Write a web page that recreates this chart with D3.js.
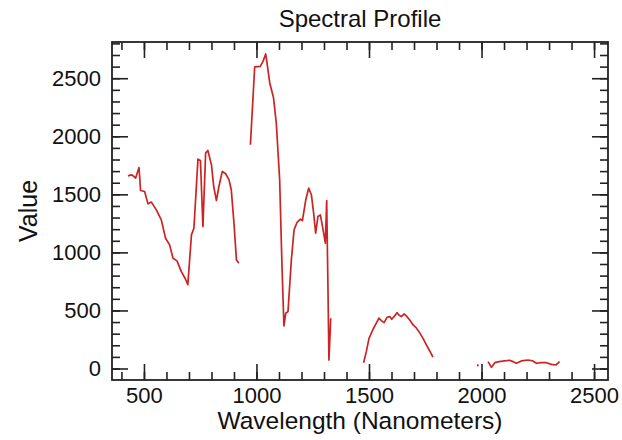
<!DOCTYPE html>
<html>
<head>
<meta charset="utf-8">
<script src="https://cdn.jsdelivr.net/npm/d3@7"></script>
<style>
  body { margin: 0; background: #fff; }
  text { font-family: "Liberation Sans", Arial, Helvetica, sans-serif; fill: #111; }
</style>
</head>
<body>
<svg id="chart"></svg>
<script>
let w = 622;
let h = 440;

// spectral bands (gaps between them are water absorption bands)
const band1Wl  = [429, 444, 456, 463, 478, 485, 503, 518, 533, 555, 577, 596, 614, 629, 647, 666, 685, 695, 711, 722, 740, 751, 762, 774, 784, 800, 810, 822, 833, 848, 863, 878, 888, 900, 911, 922];
const band1Val = [1659, 1668, 1653, 1640, 1731, 1533, 1524, 1418, 1433, 1366, 1280, 1122, 1065, 950, 927, 834, 769, 722, 1151, 1208, 1803, 1791, 1222, 1855, 1878, 1754, 1567, 1447, 1567, 1697, 1677, 1625, 1539, 1252, 935, 907];

const band2Wl  = [973, 992, 1017, 1029, 1041, 1047, 1059, 1076, 1088, 1103, 1113, 1122, 1130, 1140, 1155, 1167, 1180, 1195, 1204, 1219, 1232, 1244, 1254, 1263, 1273, 1284, 1296, 1306, 1312, 1318, 1322, 1330];
const band2Val = [1927, 2597, 2602, 2645, 2709, 2631, 2459, 2329, 2114, 1625, 907, 366, 476, 490, 935, 1194, 1257, 1286, 1274, 1453, 1553, 1496, 1338, 1166, 1309, 1323, 1194, 1079, 1447, 640, 73, 433];

const band3Wl  = [1476, 1488, 1500, 1518, 1536, 1544, 1555, 1567, 1580, 1592, 1601, 1614, 1624, 1633, 1644, 1656, 1666, 1681, 1696, 1711, 1725, 1740, 1755, 1770, 1784];
const band3Val = [50, 145, 260, 338, 403, 433, 412, 395, 441, 447, 424, 453, 481, 461, 447, 470, 453, 418, 375, 347, 309, 260, 203, 151, 97];

const band4Wl  = [1983, 1984];
const band4Val = [18, 36];

const band5Wl  = [2029, 2044, 2059, 2078, 2103, 2125, 2140, 2155, 2177, 2207, 2226, 2244, 2266, 2288, 2311, 2330, 2347];
const band5Val = [59, 10, 50, 59, 65, 71, 59, 45, 65, 73, 67, 45, 50, 50, 36, 30, 59];

const xTicks = [500, 1000, 1500, 2000, 2500];
const yTicks = [0, 500, 1000, 1500, 2000, 2500];
const xMinor = d3.range(400, 2600, 100);
const yMinor = d3.range(0, 2900, 100);

const xDomain = [358, 2562];
const yDomain = [-99, 2812];

const margin = {top: 42, right: 14, bottom: 60, left: 112};

const chart1 = d3.select('#chart')
    .attr('width', w)
    .attr('height', h);

const xScale = d3.scaleLinear()
    .domain(xDomain)
    .range([margin.left, w - margin.right]);

const yScale = d3.scaleLinear()
    .domain(yDomain)
    .range([h - margin.bottom, margin.top]);

const bands = [
    [band1Wl, band1Val],
    [band2Wl, band2Val],
    [band3Wl, band3Val],
    [band4Wl, band4Val],
    [band5Wl, band5Val]
].map(([wl, val]) => wl.map((d, i) => ({wl: d, value: val[i]})));

const line = d3.line()
    .x(d => xScale(d.wl))
    .y(d => yScale(d.value));

chart1.append('g')
    .selectAll('path')
    .data(bands)
    .join('path')
    .attr('d', line)
    .attr('fill', 'none')
    .attr('stroke', '#cc2424')
    .attr('stroke-width', 1.7)
    .attr('stroke-linejoin', 'round');

// axes: majors with labels, minors without, all ticks pointing inward
const x0 = h - margin.bottom;
const y0 = margin.top;
const xr = w - margin.right;
const fmt = d3.format('d');

const styleAxis = g => {
    g.select('.domain').remove();
    g.selectAll('line').attr('stroke', '#222').attr('stroke-width', 1.6);
    g.selectAll('text').attr('font-size', 22).attr('fill', '#111')
        .attr('font-family', '"Liberation Sans", Arial, sans-serif');
};

chart1.append('g')
    .attr('transform', `translate(0,${x0})`)
    .call(d3.axisBottom(xScale).tickValues(xMinor).tickSizeInner(-8).tickSizeOuter(0).tickFormat(''))
    .call(styleAxis);
chart1.append('g')
    .attr('transform', `translate(0,${x0})`)
    .call(d3.axisBottom(xScale).tickValues(xTicks).tickSizeInner(-16).tickSizeOuter(0).tickPadding(7).tickFormat(fmt))
    .call(styleAxis);

chart1.append('g')
    .attr('transform', `translate(0,${y0})`)
    .call(d3.axisTop(xScale).tickValues(xMinor).tickSizeInner(-8).tickSizeOuter(0).tickFormat(''))
    .call(styleAxis);
chart1.append('g')
    .attr('transform', `translate(0,${y0})`)
    .call(d3.axisTop(xScale).tickValues(xTicks).tickSizeInner(-16).tickSizeOuter(0).tickFormat(''))
    .call(styleAxis);

chart1.append('g')
    .attr('transform', `translate(${margin.left},0)`)
    .call(d3.axisLeft(yScale).tickValues(yMinor).tickSizeInner(-8).tickSizeOuter(0).tickFormat(''))
    .call(styleAxis);
chart1.append('g')
    .attr('transform', `translate(${margin.left},0)`)
    .call(d3.axisLeft(yScale).tickValues(yTicks).tickSizeInner(-16).tickSizeOuter(0).tickPadding(11).tickFormat(fmt))
    .call(styleAxis);

chart1.append('g')
    .attr('transform', `translate(${xr},0)`)
    .call(d3.axisRight(yScale).tickValues(yMinor).tickSizeInner(-8).tickSizeOuter(0).tickFormat(''))
    .call(styleAxis);
chart1.append('g')
    .attr('transform', `translate(${xr},0)`)
    .call(d3.axisRight(yScale).tickValues(yTicks).tickSizeInner(-16).tickSizeOuter(0).tickFormat(''))
    .call(styleAxis);

// plot frame
chart1.append('rect')
    .attr('x', margin.left)
    .attr('y', margin.top)
    .attr('width', xr - margin.left)
    .attr('height', x0 - margin.top)
    .attr('fill', 'none')
    .attr('stroke', '#222')
    .attr('stroke-width', 1.8);

// titles
chart1.append('text')
    .attr('x', (margin.left + xr) / 2)
    .attr('y', 27)
    .attr('text-anchor', 'middle')
    .attr('font-size', 24)
    .text('Spectral Profile');

chart1.append('text')
    .attr('x', (margin.left + xr) / 2)
    .attr('y', 429)
    .attr('text-anchor', 'middle')
    .attr('font-size', 24.5)
    .text('Wavelength (Nanometers)');

chart1.append('text')
    .attr('transform', `translate(37,${(margin.top + x0) / 2}) rotate(-90)`)
    .attr('text-anchor', 'middle')
    .attr('font-size', 25)
    .text('Value');
</script>
</body>
</html>
